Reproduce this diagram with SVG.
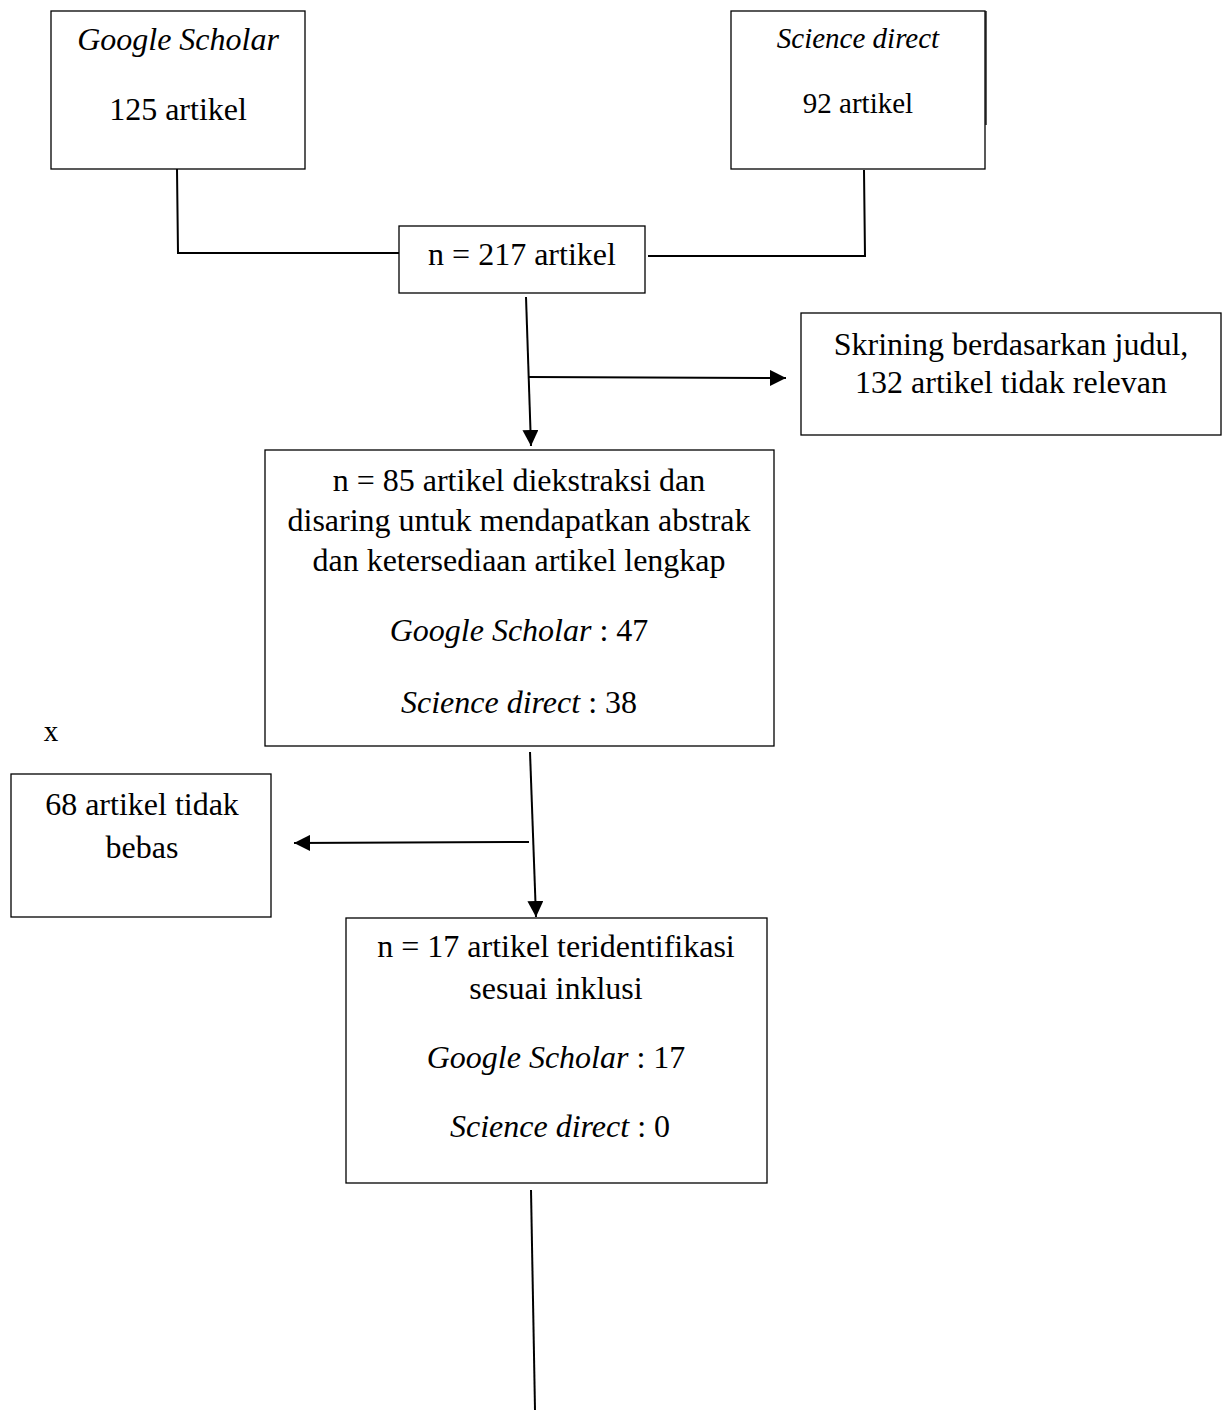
<svg xmlns="http://www.w3.org/2000/svg" width="1227" height="1411" viewBox="0 0 1227 1411">
<defs>
<style>
.box{fill:#fff;stroke:#000;stroke-width:1.3}
.t{font-family:"Liberation Serif","Times New Roman",serif;font-size:32px;fill:#000;text-anchor:middle}
.i{font-style:italic}
.c{stroke:#000;stroke-width:2;fill:none}
</style>
<marker id="ah" viewBox="0 0 10 10" refX="10" refY="5" markerWidth="16" markerHeight="16" markerUnits="userSpaceOnUse" orient="auto">
<path d="M0,0 L10,5 L0,10 z" fill="#000"/>
</marker>
</defs>
<rect width="1227" height="1411" fill="#fff"/>
<g id="connectors">
<polyline class="c" points="177,169 178,253 399,253"/>
<polyline class="c" points="864,170 865,256 648,256"/>
<line class="c" x1="526" y1="297" x2="531" y2="446" marker-end="url(#ah)"/>
<line class="c" x1="528" y1="377" x2="786" y2="378" marker-end="url(#ah)"/>
<line class="c" x1="530" y1="752" x2="536" y2="917" marker-end="url(#ah)"/>
<line class="c" x1="529" y1="842" x2="294" y2="843" marker-end="url(#ah)"/>
<line class="c" x1="531" y1="1190" x2="535" y2="1410"/>
</g>
<g id="google">
<rect class="box" x="51" y="11" width="254" height="158"/>
<text class="t i" x="178" y="50">Google Scholar</text>
<text class="t" x="178" y="120">125 artikel</text>
</g>
<g id="science">
<rect class="box" x="731" y="11" width="254" height="158"/>
<line x1="986" y1="11" x2="986" y2="125" stroke="#000" stroke-width="1.3"/>
<text class="t i" x="858" y="48" style="font-size:29px">Science direct</text>
<text class="t" x="858" y="113" style="font-size:29px">92 artikel</text>
</g>
<g id="n217">
<rect class="box" x="399" y="226" width="246" height="67"/>
<text class="t" x="522" y="265">n = 217 artikel</text>
</g>
<g id="skrining">
<rect class="box" x="801" y="313" width="420" height="122"/>
<text class="t" x="1011" y="355">Skrining berdasarkan judul,</text>
<text class="t" x="1011" y="393">132 artikel tidak relevan</text>
</g>
<g id="n85">
<rect class="box" x="265" y="450" width="509" height="296"/>
<text class="t" x="519" y="491">n = 85 artikel diekstraksi dan</text>
<text class="t" x="519" y="531">disaring untuk mendapatkan abstrak</text>
<text class="t" x="519" y="571">dan ketersediaan artikel lengkap</text>
<text class="t" x="519" y="641"><tspan class="i">Google Scholar</tspan> : 47</text>
<text class="t" x="519" y="713"><tspan class="i">Science direct</tspan> : 38</text>
</g>
<g id="x-label">
<text class="t" x="51" y="741" style="font-size:29px">x</text>
</g>
<g id="n68">
<rect class="box" x="11" y="774" width="260" height="143"/>
<text class="t" x="142" y="815">68 artikel tidak</text>
<text class="t" x="142" y="858">bebas</text>
</g>
<g id="n17">
<rect class="box" x="346" y="918" width="421" height="265"/>
<text class="t" x="556" y="957">n = 17 artikel teridentifikasi</text>
<text class="t" x="556" y="999">sesuai inklusi</text>
<text class="t" x="556" y="1068"><tspan class="i">Google Scholar</tspan> : 17</text>
<text class="t" x="560" y="1137"><tspan class="i">Science direct</tspan> : 0</text>
</g>
</svg>
